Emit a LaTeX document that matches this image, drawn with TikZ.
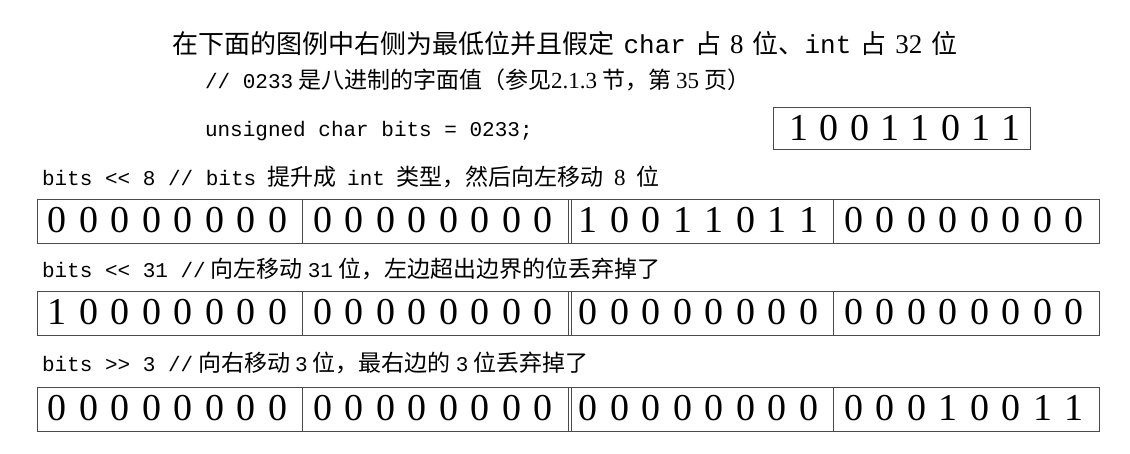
\documentclass[tikz,border=0pt]{standalone}
\usepackage{fontspec}
\setmainfont{Liberation Serif}
\setmonofont{Liberation Mono}
\newfontfamily\cjk{Noto Sans CJK SC}
\usepackage{tikz}
\usetikzlibrary{positioning}
\definecolor{gDark}{HTML}{4A4A4A}
\newcommand{\cjkSize}{\fontsize{23}{28}\selectfont}
\newcommand{\codeSize}{\fontsize{21}{28}\selectfont}
\newcommand{\code}[1]{{\codeSize\ttfamily #1}}
\newcommand{\zh}[1]{{\cjkSize\cjk #1}}
\newcommand{\num}[1]{{\fontsize{23}{28}\selectfont #1}}
\newcommand{\gap}{\hspace{5pt}}
\newcommand{\wideGap}{\hspace{11pt}}
% the first header line is set a little larger
\newcommand{\bigZh}[1]{{\fontsize{26}{30}\selectfont\cjk #1}}
\newcommand{\bigCode}[1]{{\fontsize{26}{30}\selectfont\ttfamily #1}}
\newcommand{\bigNum}[1]{{\fontsize{27}{30}\selectfont #1}}
\newcommand{\bigGap}{\hspace{9pt}}
\tikzset{
  setB/.style={
    x=1pt, y=-1pt,
    every node/.style={inner sep=0pt, outer sep=0pt},
    line cap=butt, line join=miter,
  },
  byteBox/.style={
    draw=gDark, line width=1pt, anchor=north west,
    minimum width=265.5pt, minimum height=44pt,
  },
  bitDigit/.style={
    font=\fontsize{38}{38}\selectfont, anchor=base, text=black,
  },
  textLine/.style={anchor=base west, text=black},
}
\newcommand{\bitRow}[6]{%
  \foreach \byteBits [count=\k from 0] in {{#3},{#4},{#5},{#6}} {
    \node[byteBox] (#1byte\k) at (37+265.5*\k,#2) {};
    \foreach \b [count=\i from 0] in \byteBits
      \node[bitDigit] (#1bit\k-\i) at (37+265.5*\k+20+31.5*\i,#2+33) {\b};
  }
  \draw[gDark, line width=0.8pt]
    ([xshift=3pt]#1byte2.north west) -- ([xshift=3pt]#1byte2.south west);
}

\begin{document}
\begin{tikzpicture}[setB]
\useasboundingbox (0,0) rectangle (1130,454);

% ============================================================
% Header: two lines of explanation.
% ============================================================
\node[anchor=base] (head1) at (565,54)
  {\bigZh{在下面的图例中右侧为最低位并且假定}\bigGap\bigCode{char}\bigGap\bigZh{占}\bigGap\bigNum{8}\bigGap\bigZh{位、}\bigCode{int}\bigGap\bigZh{占}\bigGap\bigNum{32}\bigGap\bigZh{位}};
\node[textLine] (head2) at (205,89)
  {\code{// 0233}\gap\zh{是八进制的字面值（参见}\num{2.1.3}\gap\zh{节，第}\gap\num{35}\gap\zh{页）}};

% ============================================================
% The unsigned char and its 8 bits.
% ============================================================
\node[textLine] (decl) at (205,137) {\code{unsigned char bits = 0233;}};
\node[draw=gDark, line width=1pt, anchor=north west,
      minimum width=257pt, minimum height=42pt] (charBox) at (773,108) {};
\foreach \b [count=\i from 0] in {1,0,0,1,1,0,1,1}
  \node[bitDigit] (charBit\i) at (799+30.3*\i,141) {\b};

% ============================================================
% Rows of 32 bits: 4 byte boxes, double rule in the middle.
% ============================================================
\node[textLine] (shiftA) at (42,186)
  {\code{bits << 8 // bits}\wideGap\zh{提升成}\wideGap\code{int}\wideGap\zh{类型，然后向左移动}\wideGap\num{8}\wideGap\zh{位}};
\bitRow{rowA}{200}{0,0,0,0,0,0,0,0}{0,0,0,0,0,0,0,0}{1,0,0,1,1,0,1,1}{0,0,0,0,0,0,0,0}

\node[textLine] (shiftB) at (42,278)
  {\code{bits << 31 //}\gap\zh{向左移动}\gap\code{31}\gap\zh{位，左边超出边界的位丢弃掉了}};
\bitRow{rowB}{292}{1,0,0,0,0,0,0,0}{0,0,0,0,0,0,0,0}{0,0,0,0,0,0,0,0}{0,0,0,0,0,0,0,0}

\node[textLine] (shiftC) at (42,371)
  {\code{bits >> 3 //}\gap\zh{向右移动}\gap\code{3}\gap\zh{位，最右边的}\gap\code{3}\gap\zh{位丢弃掉了}};
\bitRow{rowC}{387}{0,0,0,0,0,0,0,0}{0,0,0,0,0,0,0,0}{0,0,0,0,0,0,0,0}{0,0,0,1,0,0,1,1}

\end{tikzpicture}
\end{document}
